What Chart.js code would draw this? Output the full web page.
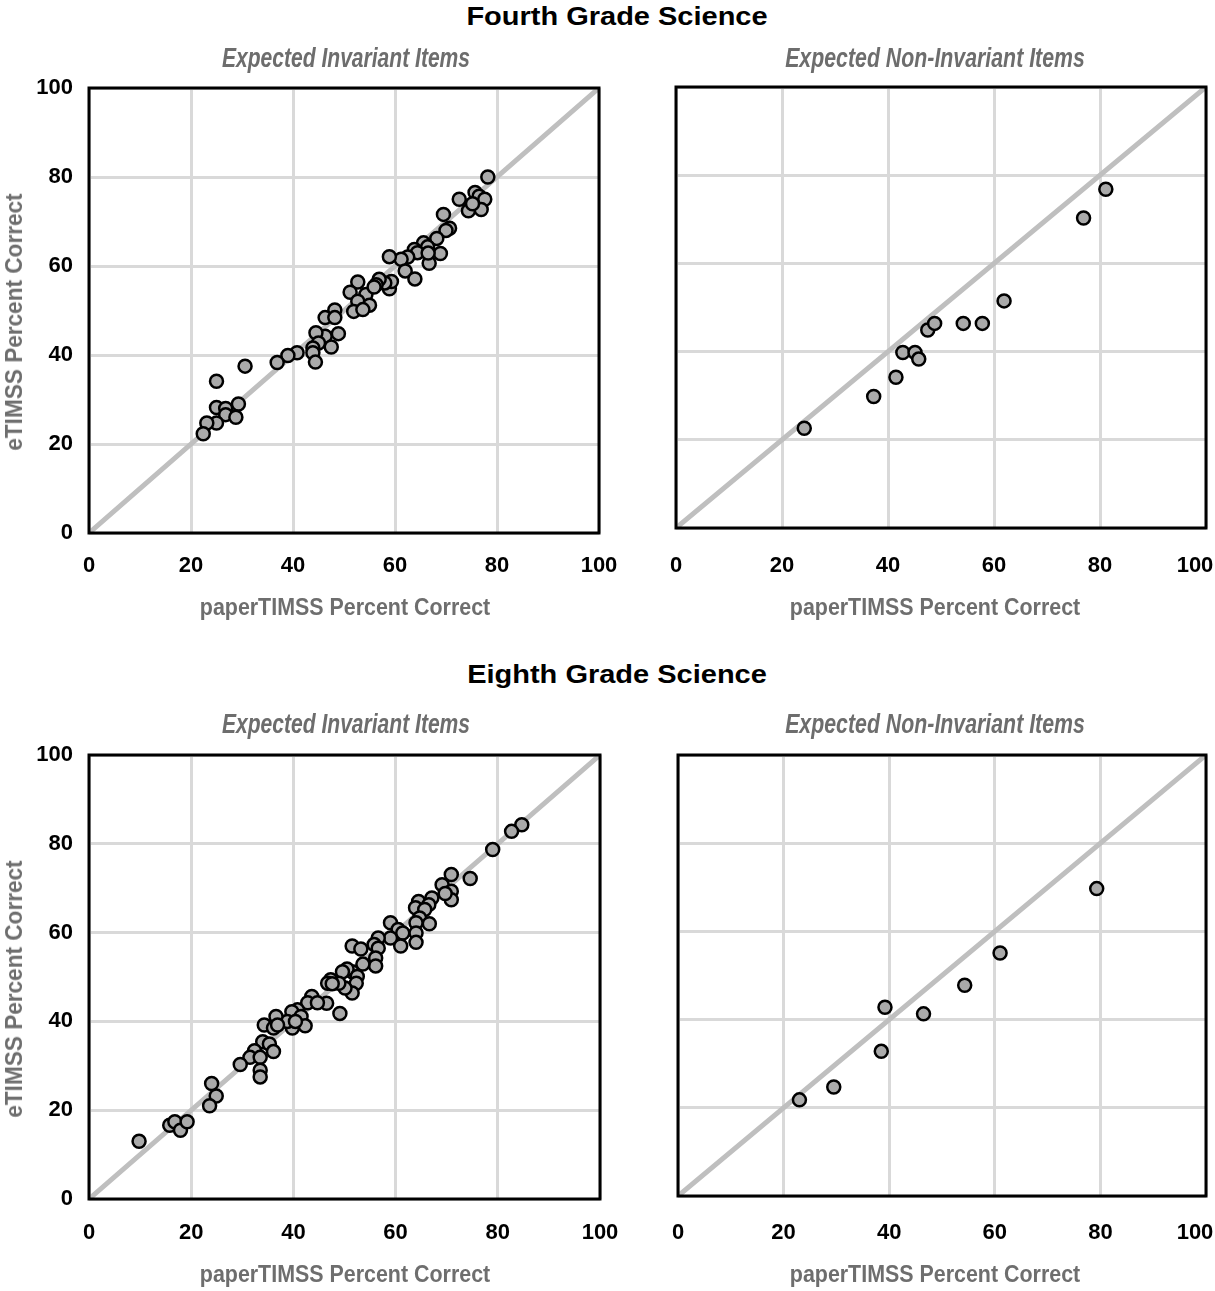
<!DOCTYPE html>
<html>
<head>
<meta charset="utf-8">
<script src="https://cdn.jsdelivr.net/npm/chart.js@4.4.1/dist/chart.umd.min.js"></script>
<style>
  body { margin: 0; background: #fff; width: 1215px; height: 1291px; position: relative; overflow: hidden; }
  .c { position: absolute; }
  .t { position: absolute; white-space: nowrap; line-height: 1; font-family: 'Liberation Sans', Arial, sans-serif; font-weight: bold; }
  .main { font-size: 26px; color: #000; }
  .sub { font-size: 27px; font-style: italic; color: #6d6d6d; }
  .ax { font-size: 24px; color: #6e6e6e; }
</style>
</head>
<body>
<div class="c" style="left:0;top:40px;width:620px;height:580px"><canvas id="g4inv"></canvas></div>
<div class="c" style="left:620px;top:40px;width:595px;height:580px"><canvas id="g4non"></canvas></div>
<div class="c" style="left:0;top:707px;width:620px;height:580px"><canvas id="g8inv"></canvas></div>
<div class="c" style="left:620px;top:707px;width:595px;height:580px"><canvas id="g8non"></canvas></div>

<div class="t main" style="left:617px;top:16px" data-w="301">Fourth Grade Science</div>
<div class="t sub" style="left:346px;top:58px" data-w="248">Expected Invariant Items</div>
<div class="t sub" style="left:935px;top:58px" data-w="300">Expected Non-Invariant Items</div>
<div class="t ax" style="left:14px;top:322px" data-w="257" data-rot="1">eTIMSS Percent Correct</div>
<div class="t ax" style="left:345px;top:607px" data-w="290">paperTIMSS Percent Correct</div>
<div class="t ax" style="left:935px;top:607px" data-w="290">paperTIMSS Percent Correct</div>

<div class="t main" style="left:617px;top:674px" data-w="300">Eighth Grade Science</div>
<div class="t sub" style="left:346px;top:724px" data-w="248">Expected Invariant Items</div>
<div class="t sub" style="left:935px;top:724px" data-w="300">Expected Non-Invariant Items</div>
<div class="t ax" style="left:14px;top:989px" data-w="257" data-rot="1">eTIMSS Percent Correct</div>
<div class="t ax" style="left:345px;top:1274px" data-w="290">paperTIMSS Percent Correct</div>
<div class="t ax" style="left:935px;top:1274px" data-w="290">paperTIMSS Percent Correct</div>

<script>
// tick labels shared by all four panels
const tickValues = [0, 20, 40, 60, 80, 100];
const refLineX = [0, 100];
const refLineY = [0, 100];

// Fourth grade, expected invariant items (paperTIMSS, eTIMSS)
const g4InvX = [78.2, 72.6, 75.7, 76.5, 77.6, 74.4, 76.9, 75.2, 69.5, 70.7, 70.0, 68.2, 65.6, 66.4, 63.8, 64.4,
  68.9, 66.7, 66.5, 62.5, 61.2, 58.9, 62.0, 63.9, 58.9, 59.3, 58.0, 56.9, 56.3, 52.7, 51.2, 54.3, 52.7, 55.0,
  51.9, 53.7, 55.9, 48.2, 46.3, 48.2, 48.9, 46.3, 44.5, 45.0, 47.5, 43.9, 43.9, 44.4, 40.8, 39.0, 36.9, 30.6,
  25.0, 29.3, 25.0, 26.8, 26.8, 28.8, 25.0, 23.1, 22.4];
const g4InvY = [80.0, 75.0, 76.5, 75.7, 75.0, 72.4, 72.7, 74.0, 71.6, 68.5, 68.0, 66.2, 65.2, 64.3, 63.7, 63.0,
  62.8, 60.6, 62.9, 62.0, 61.5, 62.1, 58.9, 57.1, 54.9, 56.5, 56.2, 57.0, 55.8, 56.4, 54.1, 53.6, 52.1, 51.2,
  49.8, 50.2, 55.3, 50.1, 48.4, 48.4, 44.8, 44.2, 45.0, 42.7, 41.8, 41.6, 40.5, 38.4, 40.5, 39.9, 38.3, 37.5,
  34.1, 29.0, 28.2, 28.0, 26.6, 26.0, 24.7, 24.7, 22.3];

// Fourth grade, expected non-invariant items
const g4NonX = [24.2, 37.3, 41.5, 42.8, 45.1, 45.8, 47.5, 48.8, 54.2, 57.8, 61.9, 76.9, 81.1];
const g4NonY = [22.6, 29.8, 34.2, 39.8, 39.8, 38.3, 44.9, 46.4, 46.4, 46.4, 51.5, 70.3, 76.8];

// Eighth grade, expected invariant items
const g8InvX = [84.7, 82.7, 79.0, 74.6, 70.9, 69.1, 70.9, 70.9, 69.7, 67.1, 64.5, 66.5, 63.9, 65.7, 64.7, 66.6,
  64.0, 59.0, 60.5, 61.4, 64.0, 64.0, 61.0, 59.0, 56.6, 55.8, 56.6, 51.5, 53.2, 56.1, 56.1, 53.6, 51.5, 50.5,
  49.6, 52.5, 52.3, 51.5, 50.1, 48.9, 47.3, 46.7, 47.6, 46.5, 49.1, 43.6, 42.8, 44.7, 40.8, 39.7, 41.5, 42.3,
  39.8, 38.8, 40.4, 36.6, 34.3, 36.1, 36.9, 34.0, 35.3, 36.1, 32.4, 31.5, 33.5, 29.6, 33.5, 33.5, 24.0, 24.9,
  23.6, 9.8, 15.8, 16.8, 17.9, 19.2];
const g8InvY = [84.3, 82.8, 78.7, 72.2, 73.1, 70.8, 69.3, 67.4, 68.8, 67.8, 67.0, 66.3, 65.6, 65.2, 63.3, 62.0,
  62.2, 62.2, 60.7, 59.9, 59.9, 57.8, 57.0, 58.8, 58.8, 57.3, 56.5, 57.0, 56.3, 54.3, 52.5, 52.9, 51.2, 51.8,
  51.2, 50.1, 48.6, 46.4, 47.5, 48.6, 49.4, 48.6, 48.5, 44.1, 41.8, 45.6, 44.2, 44.2, 42.6, 42.2, 41.1, 39.0,
  38.5, 40.0, 40.0, 41.1, 39.2, 38.5, 39.2, 35.4, 34.9, 33.2, 33.4, 31.9, 31.9, 30.3, 29.0, 27.5, 26.0, 23.2,
  21.0, 13.0, 16.6, 17.4, 15.5, 17.4];

// Eighth grade, expected non-invariant items
const g8NonX = [23.0, 29.5, 38.5, 39.2, 46.5, 54.3, 61.0, 79.3];
const g8NonY = [21.8, 24.7, 32.8, 42.8, 41.3, 47.8, 55.1, 69.7];

const tickFont = { family: "'Liberation Sans', Arial, sans-serif", size: 22, weight: 'bold' };

// squeeze the html titles to the width of the condensed face used in the original
document.querySelectorAll('.t').forEach(el => {
  const s = (+el.dataset.w) / el.offsetWidth;
  el.style.transform = 'translate(-50%,-50%) ' + (el.dataset.rot ? 'rotate(-90deg) ' : '') + 'scaleX(' + s + ')';
});

const boxPlugin = {
  id: 'box',
  afterDraw(chart) {
    const a = chart.chartArea;
    const ctx = chart.ctx;
    ctx.save();
    ctx.strokeStyle = '#000';
    ctx.lineWidth = 3;
    ctx.strokeRect(a.left, a.top, a.right - a.left, a.bottom - a.top);
    ctx.restore();
  }
};

function makeChart(id, xs, ys, o) {
  const pts = xs.map((x, i) => ({ x: x, y: ys[i] }));
  const diag = refLineX.map((x, i) => ({ x: x, y: refLineY[i] }));
  return new Chart(document.getElementById(id), {
    type: 'scatter',
    data: {
      datasets: [
        {
          data: pts,
          backgroundColor: '#aaaaaa',
          borderColor: '#000',
          borderWidth: 2.5,
          pointRadius: 6.5,
          order: 0
        },
        {
          type: 'line',
          data: diag,
          borderColor: '#bfbfbf',
          borderWidth: 5,
          borderCapStyle: 'round',
          pointRadius: 0,
          order: 1
        }
      ]
    },
    options: {
      responsive: true,
      maintainAspectRatio: false,
      animation: false,
      layout: { padding: { top: o.top, left: o.left, right: o.right, bottom: 0 } },
      plugins: { legend: { display: false }, tooltip: { enabled: false } },
      scales: {
        x: {
          type: 'linear', min: 0, max: 100,
          afterBuildTicks: s => { s.ticks = tickValues.map(v => ({ value: v })); },
          afterFit: s => { s.height = o.xh; s.paddingLeft = 0; s.paddingRight = 0; },
          grid: { color: '#d9d9d9', lineWidth: 3, drawTicks: false },
          border: { display: false },
          ticks: {
            color: '#000', padding: o.tp, font: tickFont,
            // the last label is pulled inside the page on the right-hand panels
            callback: v => (v === 100 && o.shiftLast) ? '100\u2002\u2002' : String(v)
          }
        },
        y: {
          type: 'linear', min: 0, max: 100,
          afterBuildTicks: s => { s.ticks = tickValues.map(v => ({ value: v })); },
          afterFit: s => { s.width = o.yw; s.paddingTop = 0; s.paddingBottom = 0; },
          grid: { color: '#d9d9d9', lineWidth: 3, drawTicks: false },
          border: { display: false },
          ticks: { display: o.yt, color: '#000', padding: 16, font: tickFont }
        }
      }
    },
    plugins: [boxPlugin]
  });
}

makeChart('g4inv', g4InvX, g4InvY, { top: 48, left: 0, right: 21, xh: 87, yw: 89, yt: true, tp: 20, shiftLast: false });
makeChart('g4non', g4NonX, g4NonY, { top: 47, left: 56, right: 6, xh: 92, yw: 0, yt: false, tp: 25, shiftLast: true });
makeChart('g8inv', g8InvX, g8InvY, { top: 48, left: 0, right: 20, xh: 88, yw: 89, yt: true, tp: 21, shiftLast: false });
makeChart('g8non', g8NonX, g8NonY, { top: 48, left: 58, right: 4, xh: 91, yw: 0, yt: false, tp: 24, shiftLast: true });
</script>
</body>
</html>
